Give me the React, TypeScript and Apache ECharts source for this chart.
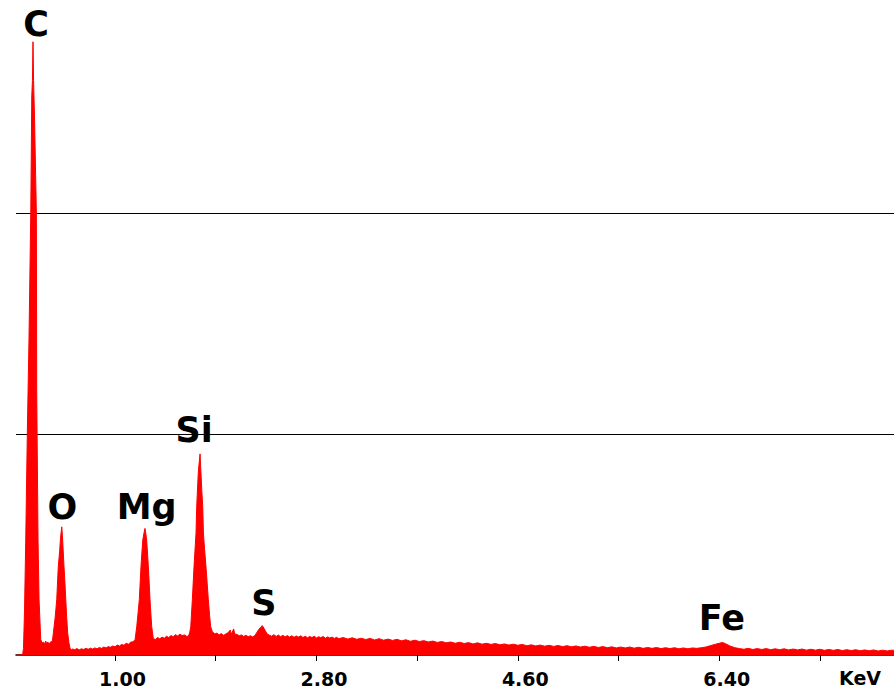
import React, { useEffect, useRef } from "react";
import * as echarts from "echarts";

// EDS spectrum, [energy keV, counts], split by energy region
const carbonOxygen: [number, number][] = [
  [0.12, 0], [0.165, 0], [0.175, 5], [0.182, 30], [0.191, 200], [0.202, 520],
  [0.216, 1000], [0.231, 1425], [0.247, 2000], [0.256, 2530], [0.262, 2600],
  [0.267, 2775], [0.272, 2600], [0.281, 2420], [0.297, 2000], [0.3, 1200],
  [0.312, 520], [0.321, 250], [0.336, 70], [0.348, 55], [0.36, 58], [0.37, 49],
  [0.38, 63], [0.39, 52], [0.4, 59], [0.41, 48], [0.42, 57], [0.43, 61], [0.44, 62],
  [0.449, 100], [0.465, 170], [0.479, 250], [0.493, 400], [0.505, 470], [0.513, 530],
  [0.524, 580], [0.53, 540], [0.536, 480], [0.544, 400], [0.552, 330], [0.56, 250],
  [0.568, 170], [0.577, 100], [0.588, 55], [0.598, 30], [0.61, 24], [0.62, 27],
];

const lowBackground: [number, number][] = [
  [0.64, 24], [0.66, 29], [0.68, 23], [0.7, 28], [0.72, 25], [0.74, 30], [0.76, 26],
  [0.78, 31], [0.8, 27], [0.82, 32], [0.84, 28], [0.86, 34], [0.88, 30], [0.9, 36],
  [0.92, 32], [0.94, 38], [0.96, 35], [0.98, 41], [1.0, 37], [1.02, 45], [1.04, 41],
  [1.06, 48], [1.08, 44], [1.1, 53], [1.12, 49], [1.14, 58], [1.16, 60],
];

const magnesiumSilicon: [number, number][] = [
  [1.179, 68], [1.194, 128], [1.206, 190], [1.217, 250], [1.232, 400], [1.248, 520],
  [1.258, 550], [1.268, 573], [1.275, 550], [1.283, 520], [1.298, 400], [1.313, 250],
  [1.32, 190], [1.328, 128], [1.342, 75],
  [1.36, 70], [1.38, 79], [1.4, 73], [1.42, 81], [1.44, 76], [1.46, 85], [1.48, 79],
  [1.5, 88], [1.52, 83], [1.54, 92], [1.56, 86], [1.58, 94], [1.6, 88], [1.62, 91],
  [1.64, 85],
  [1.655, 85], [1.667, 100], [1.677, 128], [1.691, 250], [1.706, 400], [1.724, 552],
  [1.73, 671], [1.744, 824], [1.752, 870], [1.76, 910], [1.768, 824], [1.776, 740],
  [1.784, 671], [1.79, 552], [1.8, 480], [1.813, 400], [1.834, 250], [1.845, 180],
  [1.855, 128], [1.87, 105], [1.893, 95],
];

const sulfurRegion: [number, number][] = [
  [1.91, 99], [1.93, 91], [1.95, 97], [1.97, 89], [1.99, 95], [2.01, 101], [2.03, 113],
  [2.04, 94], [2.06, 118], [2.07, 95], [2.09, 93], [2.11, 87], [2.13, 91], [2.15, 84],
  [2.17, 89], [2.19, 83], [2.21, 87], [2.23, 82], [2.25, 88],
  [2.265, 100], [2.28, 112], [2.3, 125], [2.316, 133], [2.33, 122], [2.345, 108],
  [2.36, 95], [2.385, 88],
  [2.4, 85], [2.42, 92], [2.44, 84], [2.46, 90], [2.48, 83], [2.5, 89], [2.52, 82],
  [2.54, 88], [2.56, 81], [2.58, 87], [2.6, 80], [2.62, 86], [2.64, 81], [2.66, 87],
  [2.68, 79], [2.7, 85], [2.72, 78], [2.74, 84], [2.76, 79], [2.78, 85], [2.8, 77],
  [2.82, 83], [2.84, 78], [2.86, 84], [2.88, 76], [2.9, 82], [2.92, 77], [2.94, 81],
  [2.96, 75], [2.98, 80], [3.0, 74],
];

const highBackground: [number, number][] = [
  [3.04, 79], [3.08, 72], [3.12, 78], [3.16, 71], [3.2, 76], [3.24, 70], [3.28, 75],
  [3.32, 68], [3.36, 74], [3.4, 67], [3.44, 72], [3.48, 66], [3.52, 71], [3.56, 64],
  [3.6, 69], [3.64, 62], [3.68, 67], [3.72, 61], [3.76, 65], [3.8, 59], [3.84, 63],
  [3.88, 57], [3.92, 61], [3.96, 55], [4.0, 59], [4.04, 53], [4.08, 58], [4.12, 52],
  [4.16, 56], [4.2, 50], [4.24, 55], [4.28, 49], [4.32, 53], [4.36, 48], [4.4, 52],
  [4.44, 46], [4.48, 50], [4.52, 45], [4.56, 49], [4.6, 44], [4.64, 48], [4.68, 42],
  [4.72, 46], [4.76, 41], [4.8, 45], [4.84, 40], [4.88, 44], [4.92, 39], [4.96, 43],
  [5.0, 38], [5.04, 42], [5.08, 37], [5.12, 41], [5.16, 36], [5.2, 40], [5.24, 35],
  [5.28, 39], [5.32, 34], [5.36, 38], [5.4, 33], [5.44, 37], [5.48, 32], [5.52, 36],
  [5.56, 32], [5.6, 36], [5.64, 31], [5.68, 35], [5.72, 30], [5.76, 34], [5.8, 30],
  [5.84, 34], [5.88, 29], [5.92, 33], [5.96, 29], [6.0, 33], [6.04, 28], [6.08, 32],
  [6.12, 28], [6.16, 32], [6.2, 30], [6.24, 33], [6.28, 36], [6.32, 42], [6.36, 48],
  [6.4, 53], [6.43, 57], [6.46, 50], [6.5, 40], [6.54, 33], [6.58, 29], [6.62, 26],
  [6.66, 30], [6.7, 25], [6.74, 29], [6.78, 25], [6.82, 29], [6.86, 24], [6.9, 28],
  [6.94, 24], [6.98, 28], [7.02, 23], [7.06, 27], [7.1, 23], [7.14, 27], [7.18, 22],
  [7.22, 26], [7.26, 22], [7.3, 26], [7.34, 21], [7.38, 25], [7.42, 21], [7.46, 25],
  [7.5, 20], [7.54, 24], [7.58, 20], [7.62, 24], [7.66, 19], [7.7, 23], [7.74, 19],
  [7.78, 23], [7.82, 18], [7.86, 22], [7.9, 18], [7.94, 22], [7.98, 20],
];

// element lines, placed on their peak maxima
const peakNames = ["C", "O", "Mg", "Si", "S", "Fe"];
const peakKeV = [0.267, 0.524, 1.268, 1.76, 2.316, 6.43];
const peakCounts = [2775, 580, 573, 910, 133, 57];

// axis ticks (keV)
const tickValues = [1.0, 1.9, 2.8, 3.7, 4.6, 5.5, 6.4, 7.3];
const labelValues = [1.0, 2.8, 4.6, 6.4];

const FONT = "'DejaVu Sans', Verdana, sans-serif";
const labelShift: Record<string, [number, number]> = {
  C: [3, 0],
  O: [0.5, -2],
  Mg: [1.7, -3.6],
  Si: [-6, -6],
  S: [1.5, -4.7],
  Fe: [-0.7, -6.6],
};

export default function App() {
  const ref = useRef<HTMLDivElement>(null);

  useEffect(() => {
    if (!ref.current) return;
    const chart = echarts.init(ref.current, undefined, { renderer: "svg" });
    const spectrum = [
      ...carbonOxygen,
      ...lowBackground,
      ...magnesiumSilicon,
      ...sulfurRegion,
      ...highBackground,
    ];
    const xMin = 0.115;
    const xMax = 7.962;

    chart.setOption({
      animation: false,
      backgroundColor: "#ffffff",
      grid: { left: 16, right: 0, top: 0, bottom: 36 },
      xAxis: [
        {
          type: "value",
          min: xMin,
          max: xMax,
          position: "bottom",
          offset: 6,
          axisLine: { lineStyle: { color: "#000", width: 1.5 } },
          axisTick: {
            customValues: tickValues,
            length: 3,
            lineStyle: { color: "#000", width: 1 },
          },
          axisLabel: {
            customValues: labelValues,
            formatter: (v: number) => v.toFixed(2),
            fontFamily: FONT,
            fontWeight: "bold",
            fontSize: 19,
            color: "#000",
            margin: 8,
            padding: [0, 0, 0, 15],
          },
          splitLine: { show: false },
        },
        {
          type: "value",
          min: xMin,
          max: xMax,
          position: "bottom",
          offset: 6,
          axisLine: { show: false },
          axisTick: {
            customValues: tickValues,
            inside: true,
            length: 3,
            lineStyle: { color: "#000", width: 1 },
          },
          axisLabel: { show: false },
          splitLine: { show: false },
        },
      ],
      yAxis: {
        type: "value",
        min: 0,
        max: 2964,
        interval: 1000,
        axisLine: { show: false },
        axisTick: { show: false },
        axisLabel: { show: false },
        splitLine: {
          showMinLine: false,
          showMaxLine: false,
          lineStyle: { color: "#000", width: 1 },
        },
      },
      graphic: [
        {
          type: "text",
          x: 860,
          y: 687,
          style: {
            text: "KeV",
            fontFamily: FONT,
            fontWeight: "bold",
            fontSize: 19,
            fill: "#000",
            textAlign: "center",
            textVerticalAlign: "bottom",
          },
        },
      ],
      series: [
        {
          type: "line",
          data: spectrum,
          showSymbol: false,
          lineStyle: { color: "#ff0000", width: 1 },
          areaStyle: { color: "#ff0000", opacity: 1 },
          silent: true,
        },
        {
          type: "scatter",
          symbolSize: 0,
          silent: true,
          data: peakNames.map((name, i) => ({
            name,
            value: [peakKeV[i], peakCounts[i]],
            label: { offset: labelShift[name] },
          })),
          label: {
            show: true,
            position: "top",
            distance: 0,
            formatter: "{b}",
            fontFamily: FONT,
            fontWeight: "bold",
            fontSize: 35,
            color: "#000000",
            opacity: 1,
            textBorderWidth: 0,
          },
        },
      ],
    });

    return () => chart.dispose();
  }, []);

  return (
    <div
      ref={ref}
      style={{ position: "fixed", left: 0, top: 0, width: 894, height: 691 }}
    />
  );
}
